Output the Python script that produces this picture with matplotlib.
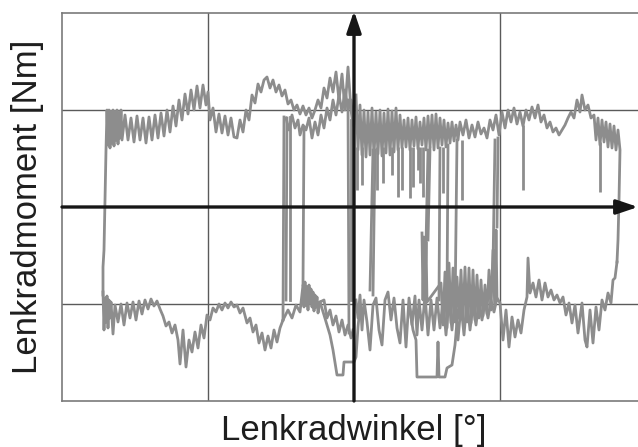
import numpy as np
import matplotlib
matplotlib.use("Agg")
import matplotlib.pyplot as plt

plt.rcParams['font.family'] = ['Liberation Sans', 'DejaVu Sans']

# steering angle / steering torque (grid: 146 / 97 units)
grid_x = [-146, 146]
grid_y = [-97, 97]

upper_left = [(-251, -88), (-251, -60), (-250, -43), (-249, 7), (-248, 57), (-247, 97),
              (-246, 62), (-245, 97), (-244, 59), (-243, 95), (-242, 64), (-241, 97), (-240, 61),
              (-239, 95), (-238, 67), (-237, 97), (-236, 63), (-235, 94), (-234, 69), (-233, 97),
              (-232, 67), (-229, 92), (-226, 67), (-223, 89), (-220, 65), (-217, 91), (-214, 67),
              (-211, 89), (-208, 64), (-205, 90), (-202, 67), (-199, 92), (-196, 69), (-193, 94),
              (-190, 71), (-187, 97), (-184, 75), (-181, 101), (-178, 81), (-175, 107), (-172, 87),
              (-169, 113), (-166, 93), (-163, 117), (-160, 97), (-157, 121), (-154, 99), (-151, 122),
              (-148, 102), (-146, 115), (-144, 87), (-141, 99), (-138, 75), (-135, 93), (-132, 74),
              (-129, 91), (-126, 72), (-123, 89), (-120, 70), (-117, 69), (-114, 87), (-111, 75),
              (-108, 97), (-105, 87), (-102, 112), (-99, 104), (-96, 123), (-93, 115), (-90, 127),
              (-87, 130), (-84, 119), (-81, 127), (-78, 115), (-75, 122), (-72, 111), (-69, 117),
              (-66, 103), (-63, 107), (-60, 97), (-57, 102), (-54, 93), (-51, 101), (-48, 92),
              (-45, 99), (-42, 89), (-39, 97), (-36, 107), (-33, 99), (-30, 119), (-27, 109),
              (-24, 129), (-21, 115), (-18, 135), (-15, 107), (-12, 133), (-9, 97), (-6, 140),
              (-3, 97), (-1, 82)]

upper_inner = [(-68, 89), (-65, 77), (-62, 92), (-59, 79), (-56, 87), (-54, 72), (-51, 82),
               (-48, 77), (-45, 89), (-42, 69), (-39, 85), (-36, 72), (-33, 92), (-30, 79),
               (-27, 99), (-24, 87), (-21, 107), (-18, 92), (-15, 112), (-12, 95), (-9, 117),
               (-6, 97), (-3, 107), (-1, 87)]

upper_right = [(2, 112), (4, 57), (6, 102), (8, 52), (10, 97), (12, 50), (14, 95), (16, 52),
               (18, 99), (20, 51), (22, 95), (24, 53), (26, 97), (28, 51), (30, 94), (32, 54),
               (34, 98), (36, 52), (38, 96), (40, 55), (42, 99), (44, 57), (46, 92), (48, 59),
               (50, 87), (52, 60), (54, 89), (56, 57), (58, 87), (60, 61), (62, 90), (64, 58),
               (66, 85), (68, 62), (70, 89), (72, 57), (74, 91), (76, 60), (78, 92), (80, 57),
               (82, 93), (84, 59), (86, 89), (88, 62), (90, 87), (92, 60), (94, 84), (96, 64),
               (98, 85), (100, 66), (102, 82), (104, 67), (106, 85), (109, 72), (112, 87),
               (115, 69), (118, 82), (121, 70), (124, 85), (127, 73), (130, 79), (133, 69),
               (136, 87), (139, 77), (142, 92), (145, 72), (148, 95), (151, 79), (154, 97),
               (157, 85), (160, 99), (163, 83), (166, 95), (169, 81), (172, 97), (175, 87),
               (178, 100), (181, 89), (184, 102), (187, 85), (190, 92), (193, 79), (196, 85),
               (199, 75), (202, 79), (205, 72), (208, 77), (211, 82), (214, 89), (217, 95),
               (220, 89), (223, 107), (226, 95), (228, 112), (231, 97), (234, 102), (237, 89),
               (240, 92), (242, 67), (244, 89), (246, 62), (248, 87), (250, 65), (252, 85),
               (254, 60), (256, 83), (258, 59), (260, 81), (262, 57), (264, 77), (266, 57),
               (265, 7), (264, -33), (263, -55)]

lower_left = [(-251, -85), (-250, -123), (-249, -91), (-248, -115), (-247, -89), (-246, -121),
              (-245, -93), (-244, -111), (-243, -95), (-241, -127), (-239, -98), (-236, -115),
              (-233, -97), (-230, -118), (-227, -96), (-224, -111), (-221, -95), (-218, -113),
              (-215, -94), (-212, -107), (-209, -93), (-206, -102), (-203, -92), (-200, -99),
              (-197, -94), (-194, -102), (-191, -109), (-188, -119), (-185, -115), (-182, -126),
              (-179, -118), (-176, -133), (-174, -157), (-171, -123), (-168, -160), (-165, -133),
              (-162, -145), (-159, -125), (-156, -141), (-153, -118), (-150, -131), (-147, -108),
              (-144, -113), (-141, -101), (-138, -105), (-135, -97), (-132, -103), (-129, -96),
              (-126, -101), (-123, -95), (-120, -100), (-117, -98), (-114, -106), (-111, -101),
              (-107, -116), (-104, -111), (-101, -125), (-98, -118), (-95, -136), (-92, -126),
              (-89, -143), (-86, -129), (-83, -141), (-80, -123), (-77, -135), (-74, -121),
              (-71, -113)]

lower_inner = [(-71, -113), (-66, -103), (-62, -111), (-58, -98), (-54, -105), (-51, -78),
               (-50, -100), (-49, -75), (-48, -98), (-47, -80), (-46, -103), (-45, -78),
               (-44, -96), (-43, -82), (-42, -100), (-41, -85), (-40, -104), (-39, -88),
               (-38, -100), (-37, -90), (-36, -106), (-34, -95), (-30, -93), (-27, -111),
               (-24, -103), (-21, -118), (-18, -109), (-15, -125), (-12, -113), (-9, -128),
               (-6, -118), (-3, -131), (-1, -123)]

lower_plateau_left = [(-34, -95), (-30, -108), (-27, -118), (-24, -128), (-21, -143),
                      (-17, -168), (-11, -168), (-10, -155), (0, -155), (2, -150),
                      (4, -120), (6, -100)]

lower_right = [(2, -93), (4, -111), (6, -88), (8, -123), (10, -93), (13, -115), (16, -143),
               (19, -98), (22, -91), (25, -123), (28, -138), (31, -93), (34, -85), (37, -113),
               (40, -91), (43, -121), (46, -136), (49, -93), (52, -140), (55, -91), (58, -118),
               (61, -89), (63, -128), (65, -93), (68, -123), (71, -88), (74, -128), (77, -93),
               (80, -123), (83, -91), (86, -121), (89, -93), (92, -128), (95, -93), (98, -123),
               (101, -91), (104, -133), (107, -98), (110, -128), (113, -93), (116, -123),
               (119, -98), (122, -118), (125, -93), (128, -113), (131, -95), (134, -111),
               (137, -93), (140, -105), (143, -91), (146, -96), (149, -133), (152, -103),
               (155, -140), (158, -110), (161, -130), (164, -113), (167, -126), (170, -103),
               (173, -90), (174, -51), (176, -86), (179, -76), (182, -90), (185, -73),
               (188, -93), (191, -76), (194, -90), (197, -83), (200, -93), (203, -88),
               (206, -96), (209, -90), (212, -108), (215, -96), (218, -116), (221, -98),
               (224, -126), (228, -96), (231, -133), (233, -140), (236, -103), (239, -136),
               (242, -100), (245, -123), (248, -93), (251, -103), (254, -86), (257, -96),
               (259, -73), (261, -71), (263, -55)]

lower_plateau_right = [(56, -103), (59, -123), (62, -133), (63, -170), (83, -170), (84, -135),
                       (85, -170), (91, -170), (93, -161), (98, -158), (101, -138), (104, -103)]

lower_hump = [(68, -26), (69, -93), (70, -30), (71, -90), (72, -35), (73, -95),
              (87, -76), (89, -118), (91, -65), (93, -121), (95, -56), (97, -116), (99, -61),
              (101, -115), (103, -70), (105, -111), (107, -63), (109, -113), (111, -60),
              (113, -115), (115, -61), (117, -116), (119, -63), (121, -113), (123, -68),
              (125, -111), (127, -73), (129, -109), (131, -78), (133, -107), (135, -63),
              (137, -103), (139, -43), (141, -98), (142, -23), (143, -93)]

# jumps between the two branches (start, end)
jumps = [((-71, -113), (-70, 90)), ((-68, -93), (-67, 89)), ((-64, -93), (-64, 90)),
         ((-51, -78), (-50, 80)), ((-6, 107), (-5, -126)), ((-3, 87), (-3, -93)),
         ((19, 57), (16, -83)), ((21, 57), (19, -88)), ((74, 57), (71, -85)),
         ((76, 59), (74, -33)), ((86, 59), (85, -93)), ((94, 62), (93, -93)),
         ((103, 67), (101, -105)), ((141, 67), (139, -58)), ((144, 69), (143, -20))]

# short dips out of the upper branch: angle, torque top, torque bottom
spikes = [(3, 60, 17), (8, 60, 22), (23, 60, 17), (29, 60, 24), (38, 60, 32), (44, 60, 10),
          (48, 60, 17), (56, 60, 9), (59, 60, 20), (64, 60, 37), (66, 60, 24), (69, 60, 10),
          (89, 60, 14), (108, 67, 7), (169, 82, 17), (246, 65, 15)]

traces = [upper_left, upper_inner, upper_right, lower_left, lower_inner,
          lower_plateau_left, lower_right, lower_plateau_right, lower_hump]

curve_col = '#8d8d8d'
curve_lw = 2.0

fig = plt.figure(figsize=(6.38, 4.47), dpi=100)
ax = fig.add_axes([62 / 638, 1 - 401 / 447, 1 - 62 / 638, 388.5 / 447])
ax.set_xlim(-292, 284)
ax.set_ylim(-194, 194.5)

ax.set_xticks(grid_x)
ax.set_yticks(grid_y)
ax.tick_params(length=0, labelbottom=False, labelleft=False)
ax.grid(True, color='#5a5a5a', lw=1.0)
for side in ['left', 'top', 'bottom']:
    ax.spines[side].set_color('#7a7a7a')
    ax.spines[side].set_linewidth(1.2)
ax.spines['right'].set_visible(False)

for tr in traces:
    pts = np.array(tr)
    ax.plot(pts[:, 0], pts[:, 1], color=curve_col, lw=curve_lw, zorder=2)
for a, b in jumps:
    ax.plot([a[0], b[0]], [a[1], b[1]], color=curve_col, lw=curve_lw, zorder=2)
sp = np.array(spikes)
ax.vlines(sp[:, 0], sp[:, 2], sp[:, 1], color=curve_col, lw=curve_lw, zorder=2)

# coordinate axes with arrow heads
arrow = dict(arrowstyle='-|>,head_length=0.65,head_width=0.22', color='#161616',
             lw=2.4, shrinkA=0, shrinkB=0, mutation_scale=20)
ax.annotate('', xy=(0, 196), xytext=(0, -194), arrowprops=arrow,
            annotation_clip=False, zorder=4)
ax.annotate('', xy=(284, 0), xytext=(-292, 0), arrowprops=arrow,
            annotation_clip=False, zorder=4)

fig.text(28 / 638, 1 - 206.5 / 447, 'Lenkradmoment [Nm]', rotation=90,
         ha='center', va='center', fontsize=25, color='#1e1e1e')
fig.text(354 / 638, 1 - 440 / 447, 'Lenkradwinkel [°]',
         ha='center', va='baseline', fontsize=25, color='#1e1e1e')

fig.savefig('out.png', dpi=100)
